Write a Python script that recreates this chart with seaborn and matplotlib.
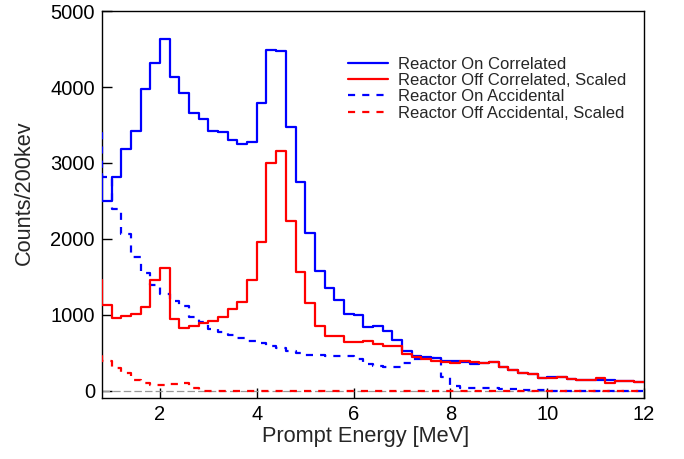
import numpy as np
import pandas as pd
import matplotlib
matplotlib.use("Agg")
import matplotlib.pyplot as plt
import seaborn as sns

# bin left edges (MeV), 0.2 MeV bins; first bin lies left of the visible range
bin_edges = np.round(np.arange(0.6, 12.0001, 0.2), 1)

on_corr = [2850, 2504, 2820, 3184, 3421, 3970, 4312, 4628, 4128, 3917,
           3662, 3579, 3421, 3412, 3303, 3246, 3280, 3793, 4483, 4470,
           3478, 2754, 2080, 1579, 1351, 1200, 1018, 1000, 838, 855,
           789, 671, 530, 460, 445, 430, 400, 390, 385, 360,
           362, 380, 311, 276, 241, 219, 170, 180, 188, 154,
           145, 145, 150, 150, 136, 132, 122]
off_corr = [1460, 1132, 965, 987, 1013, 1101, 1456, 1614, 943, 825,
            859, 890, 923, 969, 1075, 1173, 1461, 1955, 2996, 3158,
            2235, 1565, 1158, 855, 724, 724, 649, 649, 662, 618,
            596, 596, 480, 445, 417, 395, 386, 364, 399, 382,
            364, 386, 311, 276, 241, 219, 165, 175, 188, 154,
            145, 145, 177, 105, 136, 132, 122]
on_acc = [3460, 2820, 2400, 2060, 1759, 1548, 1395, 1280, 1190, 1118,
          970, 905, 811, 780, 737, 693, 655, 625, 596, 561,
          530, 496, 474, 470, 465, 465, 465, 417, 360, 330,
          320, 320, 364, 420, 435, 440, 188, 66, 35, 35,
          38, 35, 30, 25, 18, 12, 8, 5, 5, 4,
          4, 3, 3, 3, 2, 2, 2]
off_acc = [520, 390, 305, 241, 145, 105, 79, 79, 95, 100,
           35, 5, 5, 5, 5, 5, 5, 5, 5, 5,
           5, 5, 5, 5, 5, 5, 5, 5, 5, 5,
           5, 5, 5, 5, 5, 5, 5, 5, 5, 5,
           5, 5, 5, 5, 5, 5, 5, 5, 5, 5,
           5, 5, 5, 5, 5, 5, 5]

labels = ["Reactor On Correlated", "Reactor Off Correlated, Scaled",
          "Reactor On Accidental", "Reactor Off Accidental, Scaled"]
series = [on_corr, off_corr, on_acc, off_acc]
colors = ["#0000ff", "#ff0000", "#0000ff", "#ff0000"]
dashed = [False, False, True, True]

x_ticks = [2, 4, 6, 8, 10, 12]
y_ticks = [0, 1000, 2000, 3000, 4000, 5000]

sns.set_theme(style="white")
plt.rcParams["font.family"] = ["Liberation Sans", "DejaVu Sans"]

fig = plt.figure(figsize=(6.84, 4.59), dpi=100)
ax = fig.add_axes([0.149, 0.133, 0.7925, 0.843])

ax.axhline(0, color="#999999", lw=0.9, dashes=(6, 2.5), zorder=1)

order = [2, 3, 0, 1]
handles = {}
for i in order:
    vals = list(series[i]) + [series[i][-1]]
    df = pd.DataFrame({"E": bin_edges, "C": vals})
    sns.lineplot(data=df, x="E", y="C", ax=ax, color=colors[i], lw=1.6,
                 drawstyle="steps-post", estimator=None, label=labels[i],
                 zorder=3)
    line = ax.get_lines()[-1]
    if dashed[i]:
        line.set_dashes((3.2, 3.2))
    handles[i] = line

ax.set_xlim(0.8, 12)
ax.set_ylim(-92, 5000)
ax.set_xticks(x_ticks)
ax.set_yticks(y_ticks)
ax.tick_params(direction="in", length=7, width=1, labelsize=14.5, pad=5,
               colors="black", bottom=True, left=True)
for s in ax.spines.values():
    s.set_color("black")
    s.set_linewidth(1.0)

ax.set_xlabel("Prompt Energy [MeV]", fontsize=15.7)
ax.set_ylabel("Counts/200kev", fontsize=15.7)
ax.xaxis.set_label_coords(0.487, -0.072)
ax.yaxis.set_label_coords(-0.124, 0.53)

leg = ax.legend([handles[i] for i in range(4)], labels, loc="upper left",
                bbox_to_anchor=(348 / 684, 1 - 57 / 459),
                bbox_transform=fig.transFigure, frameon=False,
                fontsize=12, borderpad=0, borderaxespad=0,
                handlelength=2.4, handletextpad=0.6, labelspacing=0.07)

fig.savefig("out.png", dpi=100)
